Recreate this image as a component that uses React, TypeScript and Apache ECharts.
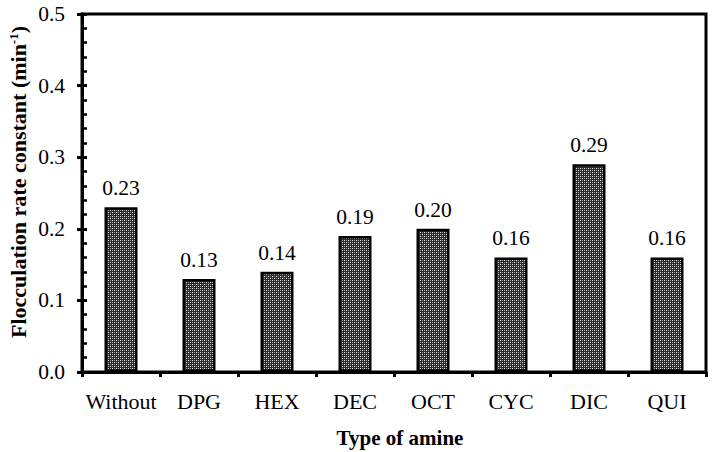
import React, { useEffect, useRef } from "react";
import * as echarts from "echarts";

const categories = ["Without", "DPG", "HEX", "DEC", "OCT", "CYC", "DIC", "QUI"];
const rateConstants = [0.23, 0.13, 0.14, 0.19, 0.2, 0.16, 0.29, 0.16];
const yTicks = { min: 0, max: 0.5, interval: 0.1 };
const xAxisTitle = "Type of amine";
const yAxisTitle = "Flocculation rate constant (min";

function makePattern(): HTMLCanvasElement {
  const c = document.createElement("canvas");
  c.width = 4;
  c.height = 4;
  const ctx = c.getContext("2d")!;
  ctx.fillStyle = "#2a2a2a";
  ctx.fillRect(0, 0, 4, 4);
  ctx.fillStyle = "#e6e6e6";
  ctx.fillRect(0, 0, 1, 1);
  ctx.fillRect(2, 2, 1, 1);
  ctx.fillStyle = "#a0a0a0";
  ctx.fillRect(2, 0, 1, 1);
  ctx.fillRect(0, 2, 1, 1);
  return c;
}

export default function App() {
  const ref = useRef<HTMLDivElement>(null);
  useEffect(() => {
    if (!ref.current) return;
    const chart = echarts.init(ref.current, null, { renderer: "svg" });
    const font = "Liberation Serif";
    const pattern = makePattern();
    chart.setOption({
      animation: false,
      backgroundColor: "#fff",
      textStyle: { fontFamily: font },
      grid: {
        left: 82,
        right: 11,
        top: 14,
        bottom: 80,
        show: true,
        borderColor: "#000",
        borderWidth: 3,
        backgroundColor: "transparent",
      },
      xAxis: {
        type: "category",
        data: categories,
        axisLine: { lineStyle: { color: "#000", width: 3 } },
        axisTick: { show: true, inside: false, length: 5, lineStyle: { color: "#000", width: 3 } },
        axisLabel: { color: "#000", fontFamily: font, fontSize: 22, margin: 18, interval: 0 },
        splitLine: { show: false },
      },
      yAxis: [
        {
          type: "value",
          min: yTicks.min,
          max: yTicks.max,
          interval: yTicks.interval,
          position: "left",
          axisLine: { show: true, lineStyle: { color: "#000", width: 3 } },
          axisTick: { show: true, inside: false, length: 5, lineStyle: { color: "#000", width: 3 } },
          axisLabel: {
            color: "#000",
            fontFamily: font,
            fontSize: 21.5,
            margin: 17,
            formatter: (v: number) => v.toFixed(1),
          },
          splitLine: { show: false },
        },
        {
          type: "value",
          min: yTicks.min,
          max: yTicks.max,
          interval: yTicks.interval,
          position: "left",
          offset: 0,
          axisLine: { show: true, lineStyle: { color: "#000", width: 3 } },
          axisTick: { show: true, inside: true, length: 5, lineStyle: { color: "#000", width: 3 } },
          minorTick: { show: true, splitNumber: 5, length: 5, lineStyle: { color: "#000", width: 2.5 } },
          axisLabel: { show: false },
          splitLine: { show: false },
        },
      ],
      series: [
        {
          type: "bar",
          data: rateConstants,
          barWidth: 33,
          itemStyle: {
            color: { image: pattern, repeat: "repeat", imageWidth: 4, imageHeight: 4 },
            borderColor: "#000",
            borderWidth: 2.5,
          },
          label: {
            show: true,
            position: "top",
            distance: 8,
            color: "#000",
            fontFamily: font,
            fontSize: 21.5,
            formatter: (p: any) => Number(p.value).toFixed(2),
          },
        },
      ],
      graphic: [
        {
          type: "text",
          x: 400,
          y: 438,
          style: {
            text: xAxisTitle,
            fill: "#000",
            fontFamily: font,
            fontWeight: "bold",
            fontSize: 21,
            align: "center",
            verticalAlign: "middle",
          },
        },
        {
          type: "text",
          x: 18,
          y: 182,
          rotation: Math.PI / 2,
          style: {
            text: `{a|${yAxisTitle}}{s|-1}{a|)}`,
            fill: "#000",
            align: "center",
            verticalAlign: "middle",
            rich: {
              a: { fontFamily: font, fontWeight: "bold", fontSize: 22, fill: "#000" },
              s: { fontFamily: font, fontWeight: "bold", fontSize: 13, fill: "#000", verticalAlign: "top", padding: [0, 0, 9, 0] },
            },
          },
        },
      ],
    });
    return () => chart.dispose();
  }, []);
  return (
    <div
      ref={ref}
      style={{ position: "fixed", left: 0, top: 0, width: 717, height: 452 }}
    />
  );
}
